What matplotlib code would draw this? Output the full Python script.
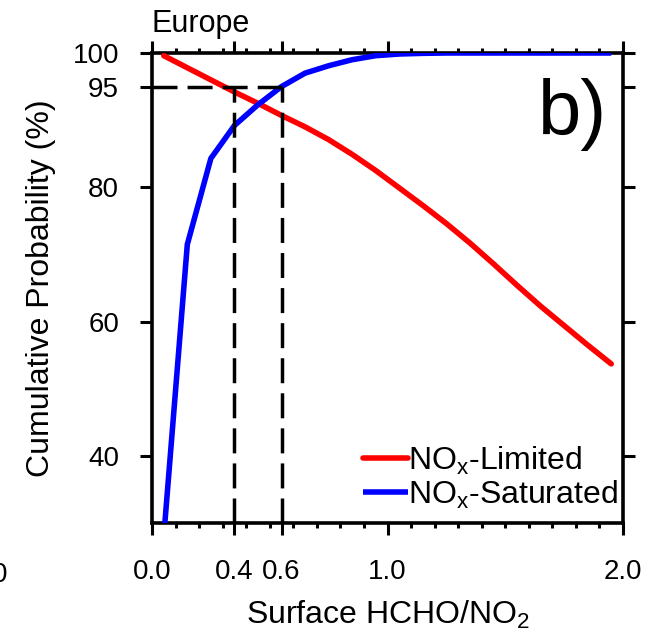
import matplotlib
matplotlib.use('Agg')
import matplotlib.pyplot as plt
import numpy as np

plt.rcParams['font.family'] = ['Liberation Sans', 'DejaVu Sans']
plt.rcParams['mathtext.fontset'] = 'custom'
plt.rcParams['mathtext.rm'] = 'Liberation Sans'

# bin centres of HCHO/NO2 ratio
ratio = [0.05, 0.15, 0.25, 0.35, 0.45, 0.55, 0.65, 0.75, 0.85, 0.95,
         1.05, 1.15, 1.25, 1.35, 1.45, 1.55, 1.65, 1.75, 1.85, 1.95]
# cumulative probability (%)
nox_limited = [99.6, 97.8, 96.0, 94.2, 92.5, 90.7, 89.0, 87.1, 84.9, 82.5,
               79.9, 77.3, 74.6, 71.7, 68.6, 65.4, 62.3, 59.4, 56.5, 53.7]
nox_saturated = [28.0, 71.5, 84.3, 89.2, 92.3, 95.0, 97.0, 98.1, 99.0, 99.6,
                 99.85, 99.95, 100, 100, 100, 100, 100, 100, 100, 100]

# thresholds (95 % level)
level = 95
thr_low = 0.35
thr_high = 0.55

xtick_pos = [0.0, 0.35, 0.55, 1.0, 2.0]
xtick_lab = ['0.0', '0.4', '0.6', '1.0', '2.0']
ytick_pos = [40, 60, 80, 95, 100]

fig = plt.figure(figsize=(6.51, 6.36), dpi=100)
ax = fig.add_axes([152 / 651, 1 - 523 / 636, 471 / 651, 470 / 636])

ax.plot(ratio, nox_limited, color='red', lw=4.0, solid_capstyle='round',
        label=r'NO$_\mathregular{x}$-Limited', zorder=3)
ax.plot(ratio, nox_saturated, color='blue', lw=4.0, solid_capstyle='butt',
        label=r'NO$_\mathregular{x}$-Saturated', zorder=3)

dash = dict(color='black', lw=2.5, dashes=(7.2, 2.9), zorder=4)
ax.plot([0, thr_high], [level, level], **dash)
ax.plot([thr_low, thr_low], [30, level], **dash)
ax.plot([thr_high, thr_high], [30, level], **dash)

ax.set_xlim(0, 2)
ax.set_ylim(30, 100)
ax.set_xticks(xtick_pos)
ax.set_xticklabels(xtick_lab)
ax.set_xticks(np.arange(0, 2.01, 0.1), minor=True)
ax.set_yticks(ytick_pos)
ax.set_yticklabels([str(v) for v in ytick_pos])

for s in ax.spines.values():
    s.set_linewidth(2.6)
ax.tick_params(which='both', direction='out', top=True, right=True, width=2.2)
ax.tick_params(which='major', length=8.6, labelsize=20)
ax.tick_params(which='minor', length=3.6)
ax.tick_params(axis='x', which='major', pad=17)
ax.tick_params(axis='y', which='major', pad=15)

ax.set_xlabel(r'Surface HCHO/NO$_\mathregular{2}$', fontsize=23, labelpad=10)
ax.set_ylabel('Cumulative Probability (%)', fontsize=23, labelpad=12)

ax.text(0.0, 1.045, 'Europe', transform=ax.transAxes, fontsize=22,
        ha='left', va='baseline')
ax.text(0.966, 0.8255, 'b)', transform=ax.transAxes, fontsize=56,
        ha='right', va='baseline')

ax.legend(loc='center left', bbox_to_anchor=(0.448, 0.097), frameon=False,
          fontsize=23, handlelength=1.4, handletextpad=0.0, borderpad=0,
          borderaxespad=0, labelspacing=0.05)

# clipped label from the neighbouring panel
fig.text(0.0, 1 - 582 / 636, '0', fontsize=20, ha='center', va='baseline')

fig.savefig('out.png', dpi=100)
